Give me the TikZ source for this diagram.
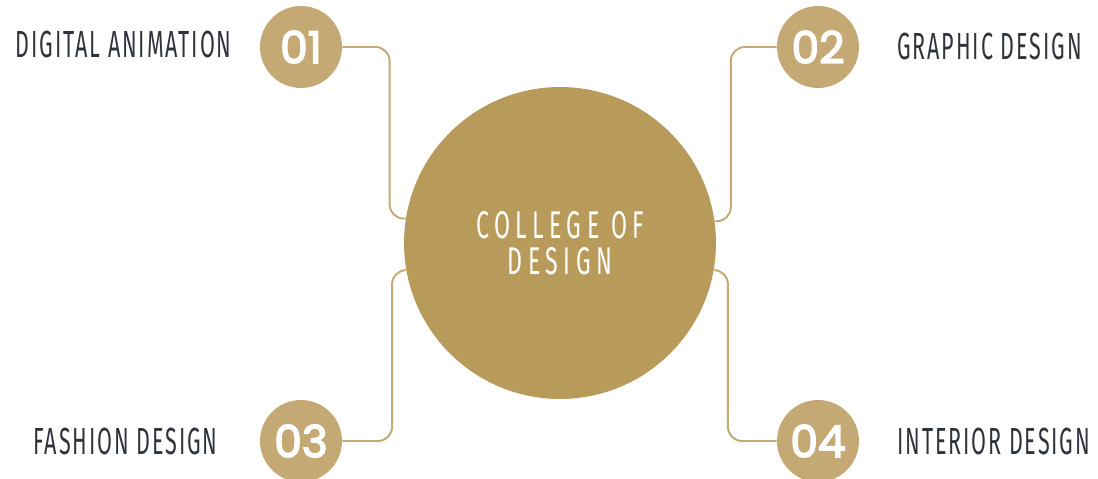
\documentclass[tikz,border=0pt]{standalone}
\usepackage{fontspec}
\setmainfont{Fira Sans}
\newfontfamily\labelfont{Fira Sans}[FakeStretch=0.57, LetterSpace=5]
\newfontfamily\hubfont{Fira Sans}[FakeStretch=0.6, LetterSpace=14]
\newfontfamily\numfont{Poppins}[FakeBold=3.5]
\usetikzlibrary{calc}
\definecolor{hubgold}{HTML}{B89A5A}
\definecolor{dotgold}{HTML}{C5A975}
\definecolor{inkgrey}{HTML}{2F343C}
\tikzset{
    hub/.style={circle, fill=hubgold, minimum size=6.24cm, inner sep=0pt,
        text=white, align=center, font=\hubfont\fontsize{22}{20.5}\selectfont}, % central circle
    dot/.style={circle, fill=dotgold, minimum size=1.64cm, inner sep=0pt,
        text=white, font=\numfont\fontsize{25}{25}\selectfont}, % numbered circles
    lbl/.style={text=inkgrey, inner sep=0pt,
        font=\labelfont\fontsize{21.5}{21.5}\selectfont},
    link/.style={draw=dotgold, line width=1.1pt, rounded corners=8pt},
}

\begin{document}
\begin{tikzpicture}[x=0.02cm, y=-0.02cm]
        \useasboundingbox (0, 0) rectangle (1098, 479);
        \node[hub] (hub) at (560, 243) {COLLEGE OF\\DESIGN};
        \node[dot] (n01) at (301, 47) {01};
        \node[dot] (n02) at (818, 47) {02};
        \node[dot] (n03) at (301, 441) {03};
        \node[dot] (n04) at (818, 441) {04};
        \draw[link] (n01.east) -| ($(hub.171.5)+(-16, 0)$) -- (hub.171.5);
        \draw[link] (n02.west) -| ($(hub.8.5)+(16, 0)$) -- (hub.8.5);
        \draw[link] (n03.east) -| ($(hub.190)+(-14, 0)$) -- (hub.190);
        \draw[link] (n04.west) -| ($(hub.-10)+(14, 0)$) -- (hub.-10);
        \node[lbl, anchor=east] (t01) at (232, 44) {DIGITAL ANIMATION};
        \node[lbl, anchor=west] (t02) at (897, 46) {GRAPHIC DESIGN};
        \node[lbl, anchor=east] (t03) at (218, 441) {FASHION DESIGN};
        \node[lbl, anchor=west] (t04) at (897, 441) {INTERIOR DESIGN};
    \end{tikzpicture}
\end{document}
